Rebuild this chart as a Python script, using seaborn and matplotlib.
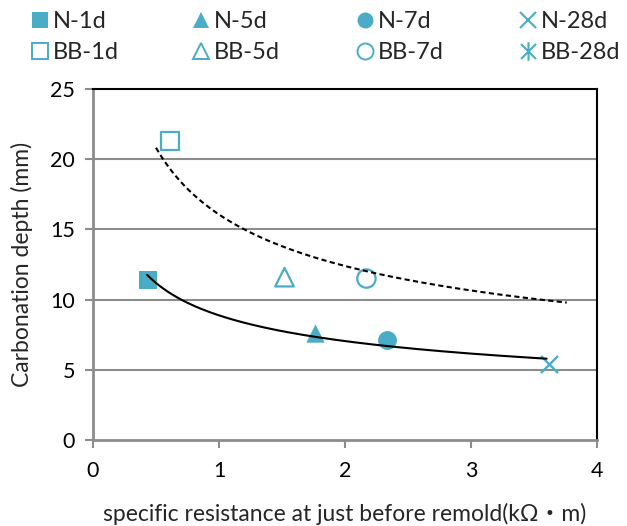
import numpy as np
import pandas as pd
import matplotlib
matplotlib.use("Agg")
import matplotlib.pyplot as plt
from matplotlib.path import Path
from matplotlib.lines import Line2D
import seaborn as sns

# Specific resistance (kΩ·m) and carbonation depth (mm) per mix and curing age
n_labels = ["N-1d", "N-5d", "N-7d", "N-28d"]
n_resistance = [0.44, 1.76, 2.33, 3.62]
n_depth = [11.4, 7.6, 7.1, 5.4]

bb_labels = ["BB-1d", "BB-5d", "BB-7d", "BB-28d"]
bb_resistance = [0.61, 1.52, 2.17, 3.75]
bb_depth = [21.3, 11.6, 11.5, 11.0]

# x-span of each power trendline
n_trend_span = [0.43, 3.60]
bb_trend_span = [0.50, 3.76]

x_ticks = [0, 1, 2, 3, 4]
y_ticks = [0, 5, 10, 15, 20, 25]

COLOR = "#4BACC6"
GRID = "#8C8C8C"
FONT = ["Lato", "Noto Sans CJK JP", "DejaVu Sans"]
W, H = 627, 526

sns.set_theme(style="white")
plt.rcParams["font.family"] = FONT

# asterisk: vertical bar plus a cross
star_path = Path(
    [(0, -1), (0, 1), (-0.8, -0.8), (0.8, 0.8), (-0.8, 0.8), (0.8, -0.8)],
    [Path.MOVETO, Path.LINETO, Path.MOVETO, Path.LINETO, Path.MOVETO, Path.LINETO],
)

n_styles = [
    dict(marker="s", kind="filled", s=170, ms=11.5),
    dict(marker="^", kind="filled", s=175, ms=11.5),
    dict(marker="o", kind="filled", s=185, ms=11.5),
    dict(marker="x", kind="stroke", s=150, ms=11.5),
]
bb_styles = [
    dict(marker="s", kind="open", s=165, ms=11.5),
    dict(marker="^", kind="open", s=180, ms=11.5),
    dict(marker="o", kind="open", s=175, ms=11.5),
    dict(marker=star_path, kind="stroke", s=230, ms=13.5),
]

fig = plt.figure(figsize=(W / 100, H / 100), dpi=100)
ax = fig.add_axes([93 / W, 1 - 440 / H, 504 / W, 351 / H])


def power_fit(x, y, span):
    b, log_a = np.polyfit(np.log(x), np.log(y), 1)
    xs = np.linspace(span[0], span[1], 200)
    return pd.DataFrame({"x": xs, "y": np.exp(log_a) * xs ** b})


n_fit = power_fit(n_resistance, n_depth, n_trend_span)
bb_fit = power_fit(bb_resistance, bb_depth, bb_trend_span)
sns.lineplot(data=n_fit, x="x", y="y", ax=ax, color="black", lw=1.5, zorder=3)
sns.lineplot(data=bb_fit, x="x", y="y", ax=ax, color="black", lw=1.5,
             linestyle=(0, (2.5, 1.6)), zorder=3)

handles = {}
for labels, xs, ys, styles in [(n_labels, n_resistance, n_depth, n_styles),
                               (bb_labels, bb_resistance, bb_depth, bb_styles)]:
    for lab, xv, yv, st in zip(labels, xs, ys, styles):
        df = pd.DataFrame({"x": [xv], "y": [yv]})
        if st["kind"] == "filled":
            kw = dict(color=COLOR, edgecolor=COLOR, linewidth=0)
            hk = dict(color=COLOR, markeredgewidth=0)
        elif st["kind"] == "stroke":
            kw = dict(color=COLOR, linewidth=1.7)
            hk = dict(color=COLOR, markeredgewidth=1.5)
        else:
            kw = dict(facecolor="none", edgecolor=COLOR, linewidth=1.6)
            hk = dict(markerfacecolor="none", markeredgecolor=COLOR,
                      markeredgewidth=1.4)
        sns.scatterplot(data=df, x="x", y="y", ax=ax, marker=st["marker"],
                        s=st["s"], zorder=2, legend=False, **kw)
        handles[lab] = Line2D([], [], marker=st["marker"], linestyle="none",
                              markersize=st["ms"], **hk)

ax.set_xlim(0, 4)
ax.set_ylim(0, 25)
ax.set_xticks(x_ticks)
ax.set_yticks(y_ticks)
ax.set_xticklabels([str(v) for v in x_ticks])
ax.set_yticklabels([str(v) for v in y_ticks])
ax.tick_params(axis="both", labelsize=15.5, colors=GRID, labelcolor="black",
               direction="out", length=6, width=1.5)
ax.tick_params(axis="x", pad=9)
ax.tick_params(axis="y", pad=7)
ax.tick_params(bottom=True, left=True)

for yv in y_ticks[1:-1]:
    ax.axhline(yv, color=GRID, lw=1.5, zorder=1)

ax.spines["left"].set_color(GRID)
ax.spines["bottom"].set_color(GRID)
ax.spines["left"].set_linewidth(2)
ax.spines["bottom"].set_linewidth(2)
ax.spines["top"].set_color("black")
ax.spines["right"].set_color("black")
ax.spines["top"].set_linewidth(1.5)
ax.spines["right"].set_linewidth(1.5)

ax.set_xlabel("specific resistance at just before remold(kΩ・m)", fontsize=16.5,
              labelpad=16)
ax.set_ylabel("Carbonation depth (mm)", fontsize=16.5, labelpad=12)

# one legend column per curing age, N on top and BB below
LEG_FS = 17
handle_len_px = 1.0 * LEG_FS * 100 / 72
col_centers = [40, 201, 365, 528]
for xc, a, b in zip(col_centers, n_labels, bb_labels):
    fig.legend([handles[a], handles[b]], [a, b], loc="upper left",
               bbox_to_anchor=((xc - handle_len_px / 2) / W, 1 - 11 / H),
               frameon=False, fontsize=LEG_FS, borderpad=0, borderaxespad=0,
               handletextpad=0.05, labelspacing=0.42, handlelength=1.0)

fig.savefig("out.png", dpi=100)
